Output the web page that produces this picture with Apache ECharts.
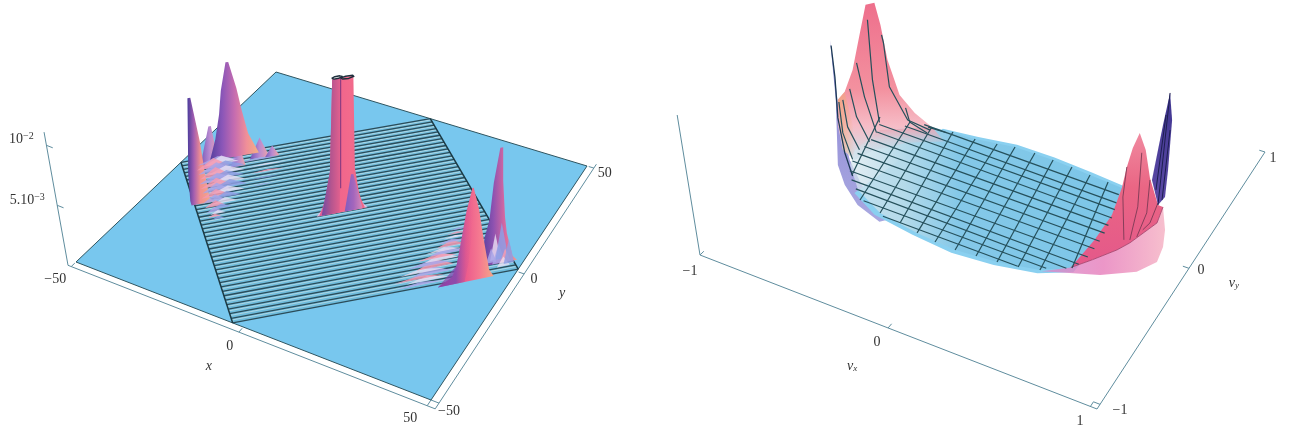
<!DOCTYPE html>
<html>
<head>
<meta charset="UTF-8">
<title>Surface plots</title>
<script src="https://cdn.jsdelivr.net/npm/echarts@6/dist/echarts.min.js"></script>
<style>
html, body { margin: 0; padding: 0; background: #fff; }
#chart { width: 1295px; height: 435px; filter: blur(0.45px); }
</style>
</head>
<body>
<div id="chart"></div>
<script>
// left plot: mesh lines of the diamond, numbered by c from the lower edge to the upper edge
var hatchC = [-50, -47.5, -45, -42.5, -40, -37.5, -35, -32.5, -30, -27.5, -25, -22.5, -20, -17.5, -15, -12.5, -10, -7.5, -5, -2.5, 0,
    2.5, 5, 7.5, 10, 12.5, 15, 17.5, 20, 22.5, 25, 27.5, 30, 32.5, 35, 37.5, 40, 42.5, 45, 47.5, 50];
// diamond corners (x, y): lower, right, upper, left
var diamond = [[-3, -50], [50, 1], [2, 50], [-50, -2]];

// left plot peaks, mesh position p = x + y, c = y - x, z in 1e-3, l / r = foot offsets along p
var peakB = { p: -33.5, c: 45.5, z: [0, 1.75, 3.75, 5.7, 8], l: [-7.4, -5.2, -3.7, -3, -1.1], r: [12.5, 8.1, 5.5, 3.3, 0] };
var peakA = { p: -52, c: 20, z: [0, 0.4, 2.7, 5.2, 9], l: [-1.5, -2, -2.8, -2.9, -3.1], r: [7, 5.4, 3.5, 1.7, -2] };
var humps = [
    { p: -42, c: 41, z: [0, 3.5], l: [-4, -0.5], r: [4, 0.5] },
    { p: -31, c: 39, z: [0, 2], l: [-3, 0], r: [3, 0] },
    { p: -21.6, c: 42, z: [0, 1.7], l: [-4, 0], r: [4, 0] },
    { p: -16.6, c: 41.5, z: [0, 0.9], l: [-3, 0], r: [3, 0] }
];
var towerFoot = { p: 0, c: 0, z: [0, 0.6], l: [-10, -7.5], r: [10, 7.5] };
var towerBody = { p: 0, c: 0, z: [0, 0.8, 1.5, 3.5, 11.2], l: [-9, -7.4, -6.5, -4.8, -3.9], r: [9, 7.4, 6.5, 5, 4.4] };
var towerLeft = { p: 0, c: 0, z: [0, 3.5, 11.2], l: [-8, -4.8, -3.9], r: [-1, -0.6, -0.6] };
var towerWedge = { p: 0, c: 0, z: [0, 3], l: [1, 3.5], r: [8, 4.4] };
var towerRings = [
    [[-3.9, 0.7], [-2.5, 1.3], [-0.6, 1.3], [0.2, 0.6], [-1.4, 0], [-3.2, 0], [-3.9, 0.7]],
    [[-0.6, 0], [1.5, 0.4], [4.2, 0.2], [4.4, -0.6], [2.2, -1.2], [0, -0.9], [-0.6, 0]]
];
var peakD = { p: 47.9, c: -44.1, z: [0, 0.4, 2.4, 3.75, 6.8, 9.6], l: [-9, -9, -7.8, -6, -4.3, -1.8], r: [4.6, 2.9, 0.7, 0, -0.7, -0.7] };
var peakC = { p: 33.2, c: -50, z: [0, 0.6, 1.5, 3.3, 5.8, 7.7], l: [-13, -7.7, -6, -4.4, -2.3, 0], r: [8, 6.3, 5.6, 4.2, 2.5, 0.5] };
var peakCLeft = { p: 33.2, c: -50, z: [0, 1.5, 3.3, 5.8, 7.7], l: [-13, -6, -4.4, -2.3, 0], r: [-3, -1.5, -0.5, 0.3, 0.5] };

// small ripples on the mesh lines: c, p start, p end, z in 1e-3
var ripplesLeft = [
    [44, -46, -30, 0.5], [42.5, -44, -30, 0.7], [41, -47, -34, 0.8], [39.5, -44, -28, 0.6], [38, -47, -33, 0.8], [36.5, -44, -29, 0.6],
    [35, -47, -35, 0.8], [33.5, -44, -30, 0.6], [32, -48, -34, 0.7], [30.5, -44, -30, 0.6], [29, -48, -36, 0.7], [27.5, -44, -30, 0.6],
    [26, -48, -37, 0.7], [24.5, -45, -32, 0.5], [23, -49, -38, 0.6], [21.5, -45, -34, 0.5], [20, -49, -40, 0.6], [18.5, -46, -36, 0.4],
    [17, -49, -41, 0.5], [15.5, -47, -39, 0.35], [14, -49, -43, 0.35], [12.5, -48, -42, 0.3], [11, -49, -44, 0.25], [9.5, -48, -43, 0.2],
    [41, -30, -14, 0.15], [37, -28, -12, 0.12], [33, -27, -14, 0.12], [29, -29, -17, 0.1], [25, -29, -20, 0.08]
];
var ripplesRight = [
    [-47, 6, 24, 0.25], [-45.5, 10, 26, 0.4], [-44, 6, 25, 0.3], [-42.5, 13, 28, 0.6], [-41, 9, 26, 0.35], [-39.5, 16, 30, 0.65], [-38, 13, 30, 0.4],
    [-36.5, 20, 33, 0.6], [-35, 18, 33, 0.35], [-33.5, 23, 36, 0.55], [-32, 22, 36, 0.3], [-30, 27, 38, 0.45], [-28, 28, 39, 0.25], [-26, 31, 40, 0.2],
    [-24, 33, 41, 0.15], [-22, 35, 42, 0.15]
];
var ripplesD = [[-42, 43, 47, 2.2], [-44, 43, 48, 1.6], [-42, 45, 50, 3.0], [-44, 46, 50, 1.1], [-46, 44, 49, 0.8], [-43, 41, 45, 1.2], [-45, 47, 51, 2.0]];

// right plot: outline of the flat blue part (vx, vy)
var rimOuter = [[-0.62, -0.27], [-0.45, -0.365], [-0.22, -0.405], [0, -0.43], [0.21, -0.41], [0.41, -0.365], [0.55, -0.28], [0.56, 0], [0.54, 0.2],
    [0.51, 0.405], [0.31, 0.43], [0.1, 0.45], [-0.11, 0.453], [-0.31, 0.416], [-0.5, 0.39]];
var rimFlat = [[-0.753, -0.093], [-0.616, -0.242], [-0.434, -0.341], [-0.208, -0.383], [0.006, -0.404], [0.214, -0.385], [0.41, -0.339], [0.532, -0.256],
    [0.541, -0.026], [0.535, 0.179], [0.493, 0.39], [0.314, 0.407], [0.103, 0.428], [-0.11, 0.431], [-0.316, 0.393], [-0.556, 0.376], [-0.773, 0.226], [-0.796, 0.022]];
var rimFade = [[-0.556, 0.376], [-0.773, 0.226], [-0.796, 0.022], [-0.72, 0.05], [-0.6, 0.2], [-0.44, 0.3]];

// right plot mesh: vx1, vy1, vx2, vy2
var meshRows = [
    [-0.6, 0.375, 0.5, 0.335], [-0.68, 0.317, 0.516, 0.272], [-0.8, 0.265, 0.53, 0.222], [-0.777, 0.204, 0.544, 0.158],
    [-0.77, 0.135, 0.552, 0.1], [-0.77, 0.07, 0.56, 0.04], [-0.77, 0.005, 0.564, -0.024], [-0.76, -0.06, 0.565, -0.085],
    [-0.73, -0.133, 0.563, -0.152], [-0.685, -0.19, 0.548, -0.218], [-0.63, -0.24, 0.51, -0.27], [-0.55, -0.3, 0.43, -0.315], [-0.41, -0.355, 0.31, -0.365]
];
var meshCols = [
    [-0.703, -0.157, -0.83, 0.322], [-0.568, -0.303, -0.674, 0.359], [-0.434, -0.341, -0.556, 0.376], [-0.314, -0.359, -0.442, 0.391],
    [-0.208, -0.383, -0.316, 0.393], [-0.103, -0.399, -0.2, 0.41], [0.006, -0.404, -0.11, 0.431], [0.11, -0.394, -0.001, 0.435],
    [0.214, -0.385, 0.103, 0.428], [0.314, -0.369, 0.209, 0.422], [0.41, -0.339, 0.314, 0.407], [0.532, -0.256, 0.414, 0.4]
];

// right plot walls, read as (vx, z) at vy = 0
var wallStrip = [[-0.928, 0.747], [-0.894, 0.333], [-0.882, -0.126], [-0.842, -0.251], [-0.767, -0.363], [-0.641, -0.43],
    [-0.6, -0.4], [-0.744, -0.21], [-0.813, -0.06], [-0.871, 0.2], [-0.911, 0.61]];
var wallSpine = [[-0.922, 0.71], [-0.899, 0.49], [-0.882, 0.21], [-0.842, -0.02], [-0.796, -0.17]];
var wallLeft = [[-0.882, 0.339], [-0.842, 0.413], [-0.796, 0.589], [-0.756, 0.856], [-0.721, 1.086], [-0.67, 1.122], [-0.635, 0.979], [-0.595, 0.747],
    [-0.526, 0.526], [-0.44, 0.434], [-0.343, 0.376], [-0.274, 0.351], [-0.526, 0.169], [-0.67, 0.072], [-0.784, -0.049], [-0.853, -0.006], [-0.882, 0.16]];
var wallOrange = [[-0.882, 0.339], [-0.842, 0.413], [-0.796, 0.2], [-0.784, -0.049], [-0.853, -0.006]];
var wallLinesLeft = [
    [[-0.71, 0.984], [-0.681, 0.567], [-0.641, 0.28]],
    [[-0.629, 0.911], [-0.618, 0.859], [-0.584, 0.559], [-0.48, 0.367], [-0.354, 0.35]],
    [[-0.773, 0.649], [-0.727, 0.426], [-0.658, 0.2]],
    [[-0.813, 0.446], [-0.773, 0.264], [-0.698, 0.117]],
    [[-0.853, 0.351], [-0.825, 0.17], [-0.756, 0.035]],
    [[-0.876, 0.326], [-0.853, 0.115], [-0.796, -0.05]],
    [[-0.492, 0.448], [-0.469, 0.358], [-0.371, 0.321]],
    [[-0.365, 0.366], [-0.263, 0.371]]
];
var peakPurple = [[0.907, 1.206], [0.872, 0.96], [0.842, 0.731], [0.817, 0.54], [0.847, 0.376], [0.882, 0.45], [0.897, 0.651], [0.917, 1.018]];
var purpleLines = [[[0.907, 1.206], [0.847, 0.376]], [[0.887, 1.039], [0.837, 0.479]], [[0.907, 0.941], [0.867, 0.421]]];
var peakPink = [[0.666, 0.41], [0.691, 0.571], [0.721, 0.721], [0.756, 0.846], [0.786, 0.739], [0.807, 0.549], [0.847, 0.376], [0.872, 0.374],
    [0.842, 0.245], [0.706, 0.036], [0.641, -0.046], [0.516, -0.176], [0.404, -0.285], [0.527, -0.029], [0.615, 0.191]];
var pinkLines = [
    [[0.691, 0.571], [0.671, 0.347], [0.676, 0.043]],
    [[0.766, 0.709], [0.746, 0.313], [0.706, 0.057]],
    [[0.807, 0.535], [0.791, 0.292], [0.741, 0.096]],
    [[0.847, 0.391], [0.807, 0.228], [0.771, 0.161]]
];
var skirt = [[0.872, 0.374], [0.882, 0.214], [0.872, 0.089], [0.842, -0.034], [0.741, -0.154], [0.555, -0.266], [0.356, -0.344], [0.25, -0.385],
    [0.404, -0.285], [0.516, -0.176], [0.641, -0.046], [0.706, 0.036], [0.842, 0.245]];

// corners of the floor on screen, used by the perspective of each plot
var leftFloor = [[76, 262], [431, 400], [587, 166], [276, 72]];
var rightFloor = [[700, 255], [1097, 409], [1265, 152], [917, 44]];

var leftLabels = [
    { text: '\u221250', at: [-50, -52, 0], dx: -16, dy: 13 },
    { text: '0', at: [0, -52, 0], dx: -9, dy: 14 },
    { text: 'x', at: [0, -52, 0], dx: -30, dy: 34, italic: true },
    { text: '50', at: [50, -52, 0], dx: -17, dy: 13 },
    { text: '\u221250', at: [52, -50, 0], dx: 10, dy: 8 },
    { text: '0', at: [52, 0, 0], dx: 10, dy: 5 },
    { text: 'y', at: [52, 0, 0], dx: 38, dy: 19, italic: true },
    { text: '50', at: [52, 50, 0], dx: 11, dy: 5 }
];
var rightLabels = [
    { text: '\u22121', at: [-1, -1, 0], dx: -10, dy: 16 },
    { text: '0', at: [0, -1, 0], dx: -11, dy: 14 },
    { text: '{i|v}{s|x}', at: [0, -1, 0], dx: -36, dy: 38 },
    { text: '1', at: [1, -1, 0], dx: -17, dy: 12 },
    { text: '\u22121', at: [1, -1, 0], dx: 23, dy: 1 },
    { text: '0', at: [1, 0, 0], dx: 12, dy: 2 },
    { text: '{i|v}{s|y}', at: [1, 0, 0], dx: 45, dy: 15 },
    { text: '1', at: [1, 1, 0], dx: 8, dy: 6 }
];

function makeView(q, lo, hi, zScale) {
    var dx1 = q[1][0] - q[2][0], dx2 = q[3][0] - q[2][0], sx = q[0][0] - q[1][0] + q[2][0] - q[3][0];
    var dy1 = q[1][1] - q[2][1], dy2 = q[3][1] - q[2][1], sy = q[0][1] - q[1][1] + q[2][1] - q[3][1];
    var den = dx1 * dy2 - dx2 * dy1;
    var g = (sx * dy2 - dx2 * sy) / den, h = (dx1 * sy - sx * dy1) / den;
    var a = q[1][0] - q[0][0] + g * q[1][0], b = q[3][0] - q[0][0] + h * q[3][0], c = q[0][0];
    var d = q[1][1] - q[0][1] + g * q[1][1], e = q[3][1] - q[0][1] + h * q[3][1], f = q[0][1];
    return function (x, y, z, lean) {
        var s = (x - lo) / (hi - lo), t = (y - lo) / (hi - lo), w = g * s + h * t + 1;
        var up = (z || 0) * zScale;
        return [(a * s + b * t + c) / w - up * (lean || 0), (d * s + e * t + f) / w - up];
    };
}
var left = makeView(leftFloor, -50, 50, 12);
var right = makeView(rightFloor, -1, 1, 140);

function grad(stops, vertical) {
    var list = stops.map(function (c, i) {
        return Array.isArray(c) ? { offset: c[0], color: c[1] } : { offset: i / (stops.length - 1), color: c };
    });
    return new echarts.graphic.LinearGradient(0, 0, vertical ? 0 : 1, vertical ? 1 : 0, list);
}

var shapes = [];
function poly(pts, fill, extra) { shapes.push({ kind: 'polygon', pts: pts, style: Object.assign({ fill: fill }, extra || {}) }); }
function line(pts, color, width) { shapes.push({ kind: 'polyline', pts: pts, style: { fill: null, stroke: color, lineWidth: width || 1, lineJoin: 'round' } }); }
function label(view, l) {
    shapes.push({ kind: 'text', pt: view(l.at[0], l.at[1], l.at[2]), dx: l.dx, dy: l.dy, text: l.text, italic: l.italic });
}

function mesh(p, c, z) { return left((p - c) / 2, (p + c) / 2, z); }
// same mesh numbers, pinned to the corners of the drawn diamond
function hatch(p, c) {
    var u = (p + 50) / 100, v = (c + 50) / 100;
    var lowX = diamond[0][0] + (diamond[1][0] - diamond[0][0]) * u, lowY = diamond[0][1] + (diamond[1][1] - diamond[0][1]) * u;
    var topX = diamond[3][0] + (diamond[2][0] - diamond[3][0]) * u, topY = diamond[3][1] + (diamond[2][1] - diamond[3][1]) * u;
    return left(lowX + (topX - lowX) * v, lowY + (topY - lowY) * v);
}
function peak(k, fill) {
    var pts = [];
    k.z.forEach(function (z, i) { pts.push(mesh(k.p + k.l[i], k.c, z)); });
    for (var i = k.z.length - 1; i >= 0; i--) pts.push(mesh(k.p + k.r[i], k.c, k.z[i]));
    poly(pts, fill);
}
function ripple(r, fill) {
    poly([mesh(r[1], r[0], 0), mesh((r[1] + r[2]) / 2, r[0], r[3]), mesh(r[2], r[0], 0)], fill);
}

var axisColor = '#5f8d9e', edgeColor = '#2f5560', meshColor = '#2b4c59', bowlMesh = '#25505b';
var rippleColors = ['rgba(169,166,232,0.85)', 'rgba(232,224,244,0.8)', 'rgba(245,154,178,0.85)', 'rgba(143,159,228,0.85)'];

// ---- left plot ----
line([left(-51, -52), left(52, -52), left(52, 52)], axisColor);
line([left(-51, -52), left(-51, -52, 11.1, 0.18)], axisColor);
[5, 10].forEach(function (z) {
    line([left(-51, -52, z, 0.18), left(-49, -52, z, 0.18)], axisColor);
});
[[-50, -52, -50, -50.5], [0, -52, 0, -50.5], [50, -52, 50, -50], [52, -50, 50, -50], [52, 0, 50.5, 0], [52, 50, 50.5, 50]].forEach(function (t) {
    line([left(t[0], t[1]), left(t[2], t[3])], axisColor);
});
poly([left(-50, -50), left(50, -50), left(50, 50), left(-50, 50)], '#78c7ee', { stroke: edgeColor, lineWidth: 1 });
poly([hatch(-50, 50), hatch(50, 50), hatch(50, -50), hatch(-50, -50)], '#6fbcdc');
hatchC.forEach(function (c) {
    if (c > -50) line([hatch(-50, c - 0.95), hatch(50, c - 0.95)], '#c9e2ea', 0.7);
    line([hatch(-50, c), hatch(50, c)], meshColor, 1.3);
});
line([hatch(-50, -50), hatch(-50, 50)], '#1b3a45', 1.5);
line([hatch(50, 50), hatch(50, -50)], '#1b3a45', 1.5);

humps.forEach(function (k) { peak(k, grad(['#6d55b8', '#b98ad0', '#f2a6a8'])); });
peak(peakB, grad(['#54409e', '#8a56b8', '#c56cb0', '#f08f98', '#f3b184']));
peak(peakA, grad([[0, '#4a3c9c'], [0.25, '#a55fb0'], [0.5, '#f08f90'], [1, '#f3b184']]));
ripplesLeft.forEach(function (r, i) { ripple(r, rippleColors[i % 4]); });

peak(towerFoot, 'rgba(240,190,225,0.9)');
peak(towerBody, grad(['#d95c94', '#f0638c', '#f26a8c', '#ee6888']));
peak(towerLeft, grad(['#6f4aa4', '#b4558f', '#e4618e']));
peak(towerWedge, grad(['#7f5cc0', '#a466bc', '#d88ab8']));
line([mesh(-0.6, 0, 2), mesh(-0.6, 0, 11.2)], '#8e3d82', 1.2);
towerRings.forEach(function (ring) {
    line(ring.map(function (o) { return mesh(o[0], o[1], 11.2); }), '#1d2f3c', 1.4);
});

peak(peakD, grad(['#54409e', '#8e52b0', '#d96aa0', '#f09a92']));
ripplesD.forEach(function (r, i) { ripple(r, rippleColors[(i * 3 + 1) % 4]); });
ripplesRight.forEach(function (r, i) { ripple(r, rippleColors[i % 3]); });
peak(peakC, grad(['#6a3fa8', '#b24aa4', '#ec5a8c', '#f57a90', '#f3a888']));
peak(peakCLeft, grad(['rgba(160,63,160,0.6)', 'rgba(122,74,176,0.75)', 'rgba(236,90,140,0)']));

leftLabels.forEach(function (l) { label(left, l); });
shapes.push({ kind: 'text', pt: left(-51, -52, 10, 0.18), dx: -25, dy: -6, text: '{n|10}{e|\u22122}' });
shapes.push({ kind: 'text', pt: left(-51, -52, 5, 0.18), dx: -30, dy: -5, text: '{n|5.10}{e|\u22123}' });

// ---- right plot ----
function wall(a) { return a.map(function (o) { return right(o[0], 0, o[1]); }); }
function floor(a) { return a.map(function (o) { return right(o[0], o[1]); }); }
line([right(-1, -1), right(1, -1), right(1, 1)], axisColor);
line([right(-1, -1), right(-1, -1, 1, 0.163)], axisColor);
[[-1, -1, -1, -0.97], [0, -1, 0, -0.97], [1, 0, 0.97, 0], [1, 1, 0.97, 1]].forEach(function (t) {
    line([right(t[0], t[1]), right(t[2], t[3])], axisColor);
});
line([right(0.97, -1), right(0.97, -0.97), right(1, -0.97)], axisColor);

poly(wall(wallStrip), grad(['#8c88d4', '#9a96da', '#a8a8e0'], true));
poly(wall(wallLeft), grad([[0, '#ee6f8c'], [0.55, '#f3919f'], [0.78, '#f6bcc6'], [1, '#cfe2ec']], true));
poly(wall(wallOrange), grad(['rgba(242,170,120,0.75)', 'rgba(242,170,120,0)']));
poly(floor(rimOuter), '#8ad0f0');
poly(floor(rimFlat), grad([[0, 'rgba(215,230,238,0.7)'], [0.2, '#b4daea'], [0.4, '#84c8e8'], [1, '#7cc6e8']]));
poly(floor(rimFade), grad(['rgba(243,160,175,0.95)', 'rgba(243,175,185,0.3)', 'rgba(243,190,195,0)'], true));
poly(wall(peakPurple), grad(['#3f3590', '#5c4aa6'], true));
poly(wall(peakPink), grad([[0, '#f08aa0'], [0.4, '#ea6684'], [1, '#e4588a']], true));
poly(wall(skirt), grad(['rgba(214,140,205,0.8)', 'rgba(232,132,190,0.85)', 'rgba(246,184,200,0.9)']));
line(wall(skirt.slice(8).concat([skirt[0]])), '#a8466f', 0.9);
line(wall(wallSpine), '#1c3a55', 1.3);

wallLinesLeft.forEach(function (a) { line(wall(a), bowlMesh, 1.2); });
meshRows.forEach(function (m) { line([right(m[0], m[1]), right(m[2], m[3])], bowlMesh, 1.2); });
meshCols.forEach(function (m) { line([right(m[0], m[1]), right(m[2], m[3])], bowlMesh, 1.2); });
pinkLines.forEach(function (a) { line(wall(a), '#7c3a55', 0.9); });
purpleLines.forEach(function (a) { line(wall(a), '#1d1e50', 1); });

rightLabels.forEach(function (l) { label(right, l); });

var textRich = {
    n: { fontFamily: 'Liberation Serif', fontSize: 14, fill: '#333' },
    e: { fontFamily: 'Liberation Serif', fontSize: 10, fill: '#333', verticalAlign: 'top', padding: [0, 0, 5, 0] },
    i: { fontFamily: 'Liberation Serif', fontStyle: 'italic', fontSize: 14, fill: '#333' },
    s: { fontFamily: 'Liberation Serif', fontStyle: 'italic', fontSize: 9, fill: '#333', padding: [5, 0, 0, 0] }
};

var chart = echarts.init(document.getElementById('chart'), null, { renderer: 'canvas' });
chart.setOption({
    animation: false,
    backgroundColor: '#ffffff',
    grid: { left: 0, right: 0, top: 0, bottom: 0 },
    xAxis: { type: 'value', min: 0, max: 1295, show: false },
    yAxis: { type: 'value', min: 0, max: 435, inverse: true, show: false },
    series: [{
        type: 'custom',
        coordinateSystem: 'cartesian2d',
        silent: true,
        clip: false,
        progressive: 0,
        data: shapes.map(function () { return [0, 0]; }),
        renderItem: function (params, api) {
            var s = shapes[params.dataIndex];
            if (s.kind === 'text') {
                var at = api.coord(s.pt);
                return {
                    type: 'text', x: at[0] + s.dx, y: at[1] + s.dy,
                    style: {
                        text: s.text, align: 'center', verticalAlign: 'middle',
                        fontFamily: 'Liberation Serif', fontSize: 14, fontStyle: s.italic ? 'italic' : 'normal',
                        fill: '#333', rich: textRich
                    }
                };
            }
            return {
                type: s.kind,
                shape: { points: s.pts.map(function (p) { return api.coord(p); }) },
                style: s.style
            };
        }
    }]
});
</script>
</body>
</html>
